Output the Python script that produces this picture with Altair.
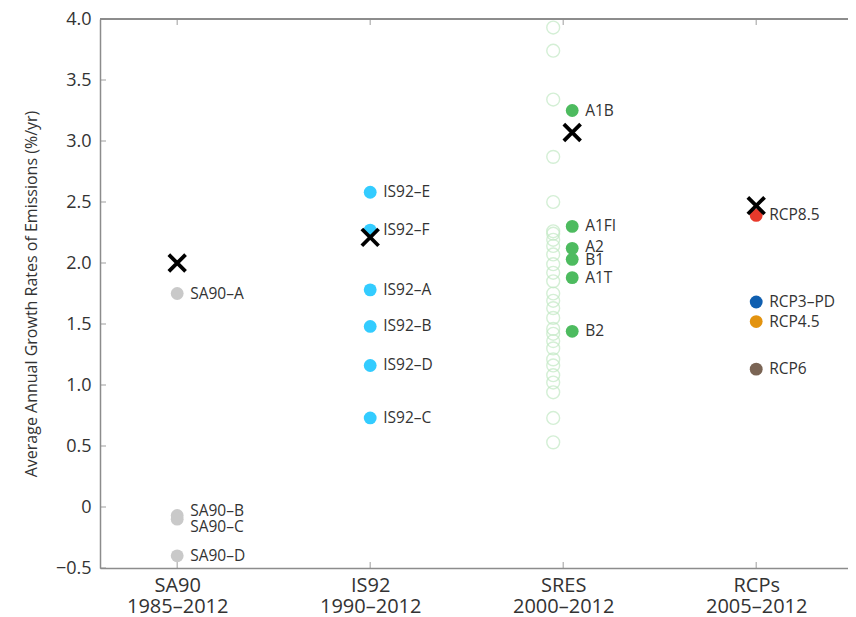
import altair as alt
import pandas as pd

# ---------------- data ----------------
groups = ["SA90", "IS92", "SRES", "RCPs"]
periods = ["1985–2012", "1990–2012", "2000–2012", "2005–2012"]

# observed average growth rate over each period (black crosses)
observed = [2.00, 2.21, 3.07, 2.47]

sa90_names = ["SA90–A", "SA90–B", "SA90–C", "SA90–D"]
sa90_values = [1.75, -0.07, -0.10, -0.40]

is92_names = ["IS92–E", "IS92–F", "IS92–A", "IS92–B", "IS92–D", "IS92–C"]
is92_values = [2.58, 2.27, 1.78, 1.48, 1.16, 0.73]

sres_names = ["A1B", "A1FI", "A2", "B1", "A1T", "B2"]
sres_values = [3.25, 2.30, 2.12, 2.03, 1.88, 1.44]

# full SRES scenario set (open circles)
sres_all_values = [3.93, 3.74, 3.34, 2.87, 2.50, 2.26, 2.24, 2.19, 2.14, 2.07,
                   1.99, 1.92, 1.85, 1.75, 1.69, 1.63, 1.55, 1.46, 1.42, 1.36,
                   1.30, 1.21, 1.16, 1.08, 1.02, 0.94, 0.73, 0.53]

rcp_names = ["RCP8.5", "RCP3–PD", "RCP4.5", "RCP6"]
rcp_values = [2.39, 1.68, 1.52, 1.13]

y_ticks = [-0.5, 0, 0.5, 1.0, 1.5, 2.0, 2.5, 3.0, 3.5, 4.0]

# ---------------- styles ----------------
group_colors = {"SA90": "#c9c9c9", "IS92": "#33ccff", "SRES": "#4dbb5f"}
rcp_colors = {"RCP8.5": "#e8392b", "RCP3–PD": "#0f5fb0",
              "RCP4.5": "#e3930f", "RCP6": "#7a6454"}
open_color = "#c2e9c4"
axis_color = "#8c8c8c"
text_color = "#333333"
FONT = "Open Sans"
label_nudge = {"SA90–B": -5, "SA90–C": 8, "A2": -1, "B1": 1}
shift_px = {"SRES": 9}          # SRES scenario markers sit right of the tick
open_shift_px = -10             # full SRES set sits left of the tick

X_MIN, X_MAX = 0.6, 4.4756
Y_MIN, Y_MAX = -0.5, 4.0

# ---------------- tables ----------------
rows = []
for g, names, vals in [("SA90", sa90_names, sa90_values),
                       ("IS92", is92_names, is92_values),
                       ("SRES", sres_names, sres_values),
                       ("RCPs", rcp_names, rcp_values)]:
    gi = groups.index(g) + 1
    for n, v in zip(names, vals):
        col = rcp_colors[n] if g == "RCPs" else group_colors[g]
        rows.append({"group": g, "x": gi, "name": n, "value": v, "color": col,
                     "nudge": label_nudge.get(n, 0)})
scen = pd.DataFrame(rows)

obs = pd.DataFrame({"group": groups, "x": list(range(1, len(groups) + 1)),
                    "value": observed})
sres_all = pd.DataFrame({"x": [groups.index("SRES") + 1] * len(sres_all_values),
                         "value": sres_all_values})
xt = pd.DataFrame({"x": list(range(1, len(groups) + 1))})
yt = pd.DataFrame({"value": y_ticks})

# ---------------- scales/axes ----------------
xscale = alt.Scale(domain=[X_MIN, X_MAX], nice=False, zero=False)
yscale = alt.Scale(domain=[Y_MIN, Y_MAX], nice=False, zero=False)

lab_arr = "[" + ",".join("['%s','%s']" % (g, p) for g, p in zip(groups, periods)) + "]"
x_axis = alt.Axis(values=list(range(1, len(groups) + 1)), labelExpr=lab_arr + "[datum.value-1]",
                  title=None, ticks=False, grid=False, domainColor=axis_color,
                  domainWidth=1.5, labelFont=FONT, labelFontSize=20,
                  labelColor=text_color, labelPadding=7, labelLineHeight=21,
                  labelBaseline="top")
Y_TITLE = "Average Annual Growth Rates of Emissions (%/yr)"
y_axis = alt.Axis(values=y_ticks,
                  labelExpr="datum.value == 0 ? '0' : format(datum.value, '.1f')",
                  title=Y_TITLE,
                  ticks=False, grid=False, domainColor=axis_color, domainWidth=1.5,
                  labelFont=FONT, labelFontSize=18, labelColor=text_color,
                  labelPadding=9, titleFont=FONT, titleFontSize=16,
                  titleFontWeight="normal", titleColor=text_color, titlePadding=16)


def X(field="x:Q"):
    return alt.X(field, scale=xscale, axis=x_axis, title=None)


def Y(field="value:Q"):
    return alt.Y(field, scale=yscale, axis=y_axis, title=Y_TITLE)


def Xd(v):
    return alt.X(datum=v, scale=xscale, axis=x_axis, title=None)


def Yd(v):
    return alt.Y(datum=v, scale=yscale, axis=y_axis, title=Y_TITLE)


layers = []

# top border and inward ticks
layers.append(alt.Chart(obs).mark_rule(color=axis_color, strokeWidth=1.5).encode(
    x=Xd(X_MIN), x2=alt.X2(datum=X_MAX), y=Yd(Y_MAX)))
layers.append(alt.Chart(xt).mark_tick(orient="vertical", size=6, thickness=1.2,
                                      color=axis_color, yOffset=-3).encode(
    x=X(), y=Yd(Y_MIN)))
layers.append(alt.Chart(xt).mark_tick(orient="vertical", size=6, thickness=1.2,
                                      color=axis_color, yOffset=3).encode(
    x=X(), y=Yd(Y_MAX)))
layers.append(alt.Chart(yt).mark_tick(orient="horizontal", size=6, thickness=1.2,
                                      color=axis_color, xOffset=3).encode(
    x=Xd(X_MIN), y=Y()))

# full SRES set, open circles
layers.append(alt.Chart(sres_all).mark_point(shape="circle", filled=False,
                                             color=open_color, strokeWidth=1.4,
                                             size=165, xOffset=open_shift_px).encode(
    x=X(), y=Y()))

cross = "M-1,-1L1,1M-1,1L1,-1"
for g in groups:
    off = shift_px.get(g, 0)
    sub = scen[scen.group == g]
    layers.append(alt.Chart(sub).mark_circle(size=165, opacity=1, xOffset=off).encode(
        x=X(), y=Y(), color=alt.Color("color:N", scale=None)))
    for nd in sorted(sub.nudge.unique()):
        subn = sub[sub.nudge == nd]
        layers.append(alt.Chart(subn).mark_text(
            align="left", baseline="middle", dx=13 + off, dy=int(nd),
            font=FONT, fontSize=15.5, color=text_color).encode(
            x=X(), y=Y(), text="name:N"))
    layers.append(alt.Chart(obs[obs.group == g]).mark_point(
        shape=cross, filled=False, color="black", strokeWidth=3.8, size=280,
        opacity=1, xOffset=off).encode(x=X(), y=Y()))

chart = alt.layer(*layers).properties(
    width=748, height=549,
    autosize=alt.AutoSizeParams(type="none"),
    padding={"left": 92, "top": 11, "right": 0, "bottom": 49},
).configure_view(stroke=None).configure(background="white")

chart.save("out.html", embed_options={"renderer": "svg", "actions": False})
